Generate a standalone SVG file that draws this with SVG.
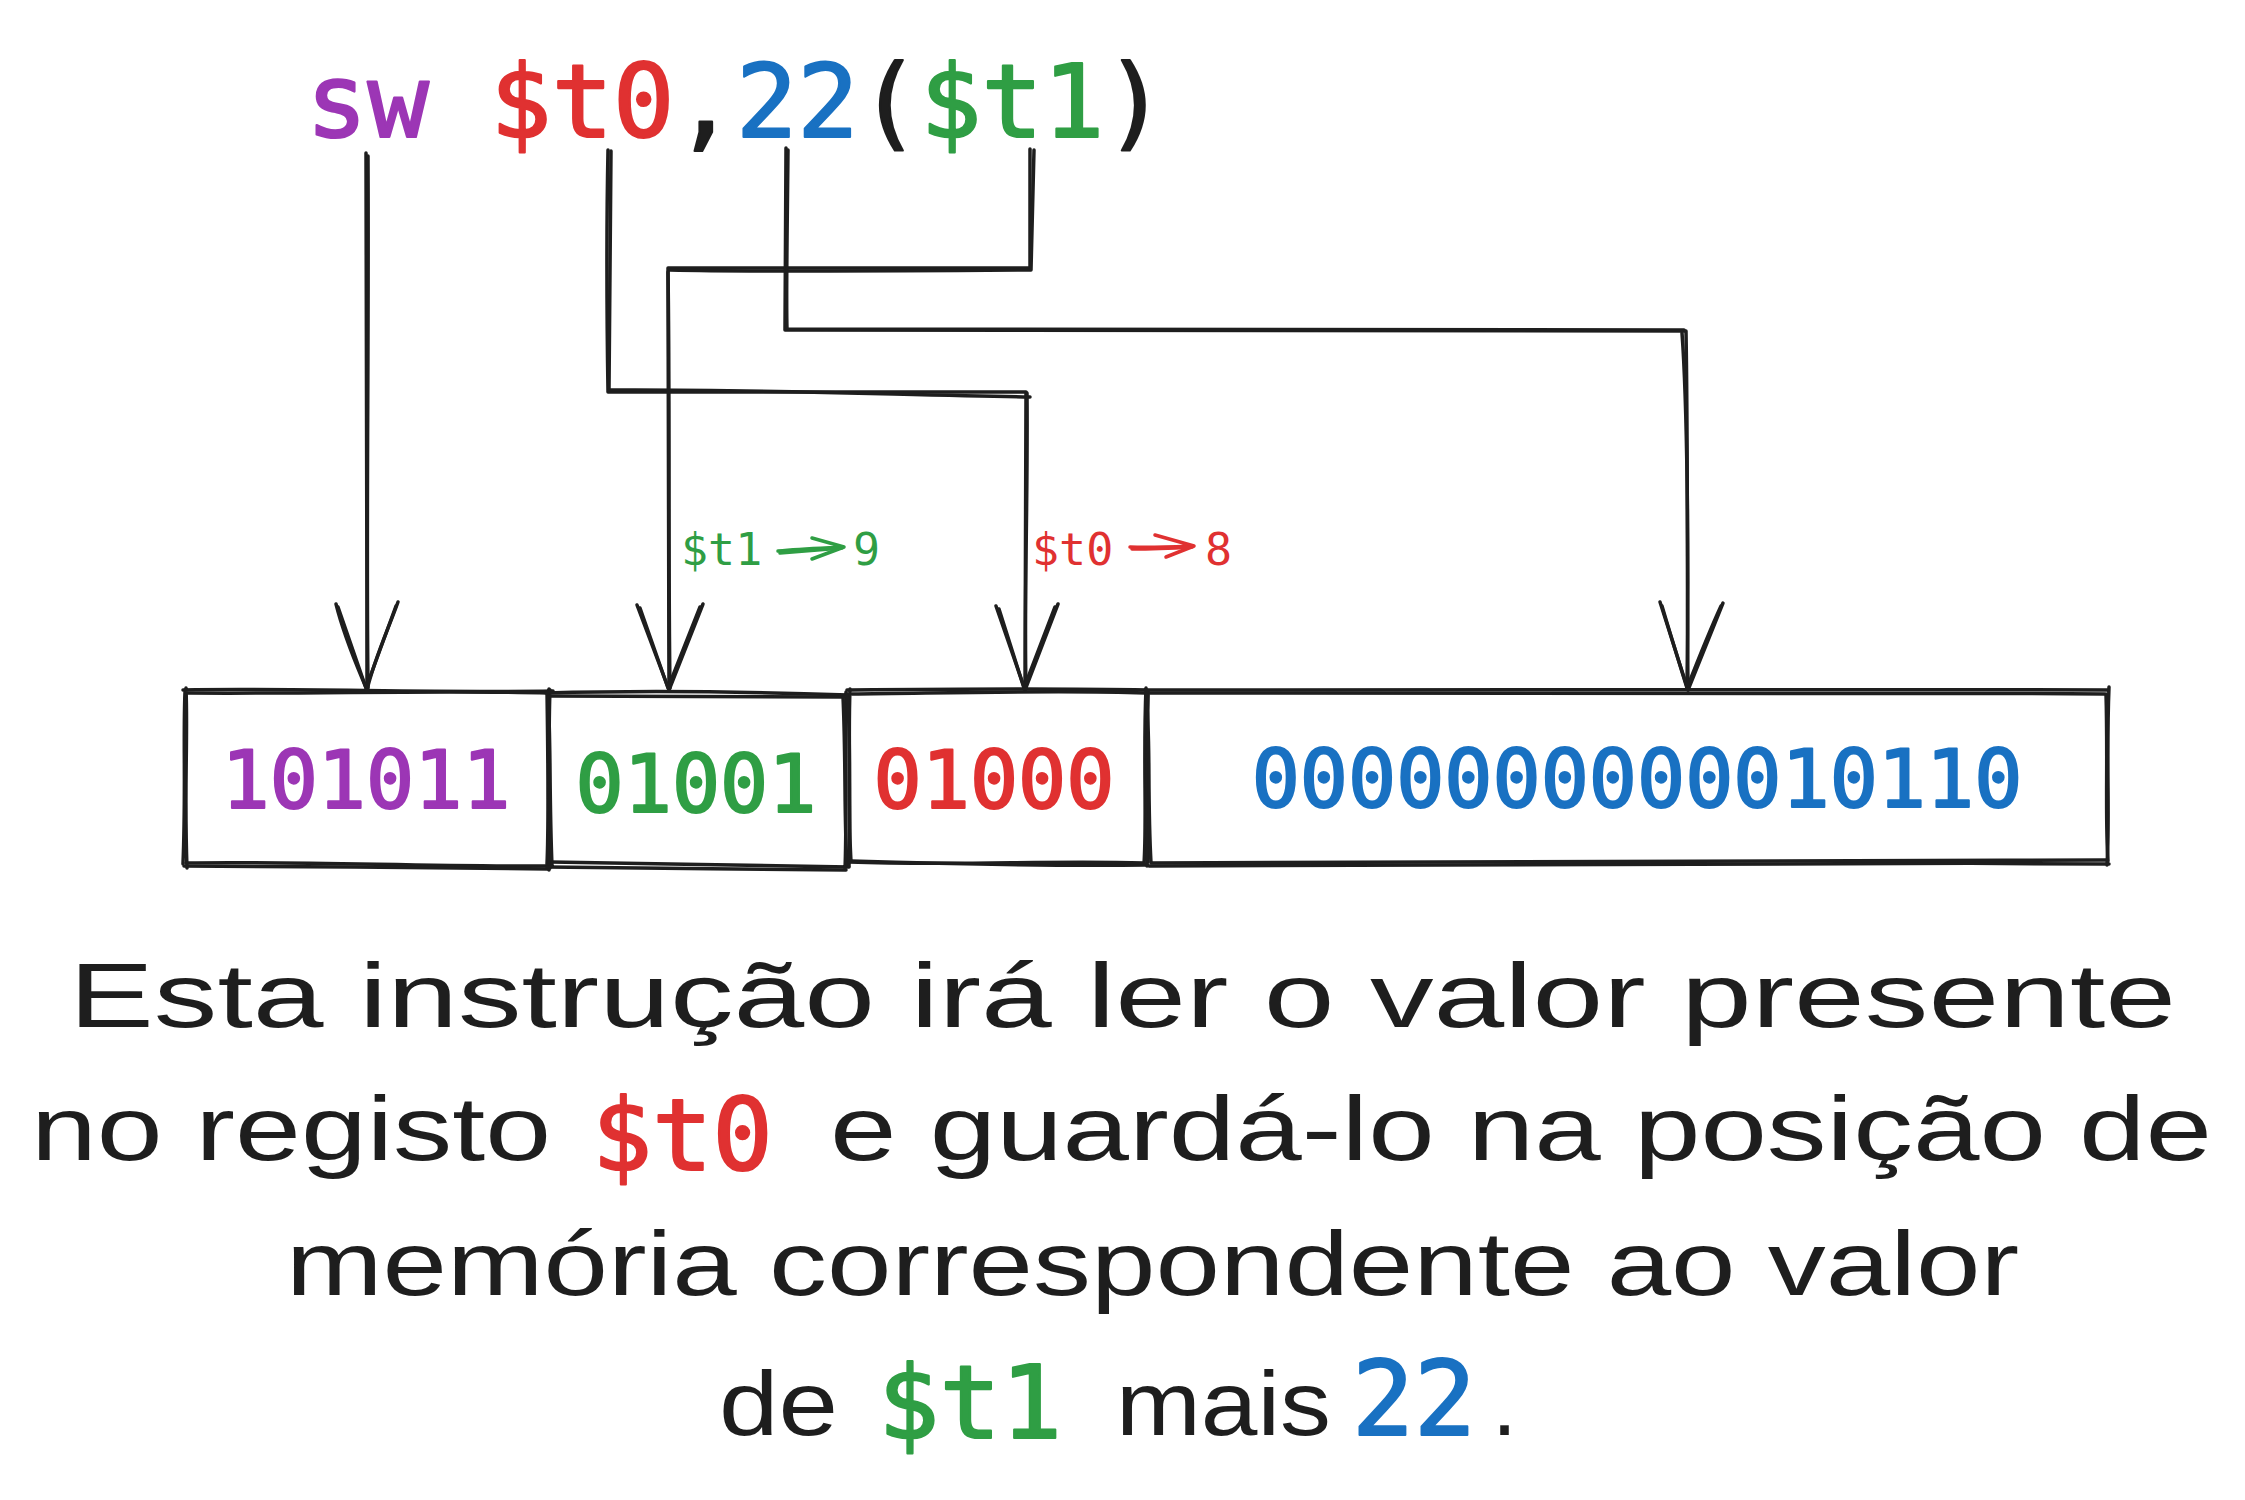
<svg xmlns="http://www.w3.org/2000/svg" width="2245" height="1500" viewBox="0 0 2245 1500">
<style>
.ln{fill:none;stroke:#1e1e1e;stroke-width:3.5;stroke-linecap:round;stroke-linejoin:round}
.lg{fill:none;stroke:#2f9e44;stroke-width:3.5;stroke-linecap:round;stroke-linejoin:round}
.lr{fill:none;stroke:#e03131;stroke-width:3.5;stroke-linecap:round;stroke-linejoin:round}
.mono{font-family:"DejaVu Sans Mono","Liberation Mono",monospace}
.m{stroke-width:2.2;stroke-linejoin:round}
.hand{font-family:"Liberation Sans","DejaVu Sans",sans-serif;font-size:90px;fill:#1e1e1e}
.pu{fill:#9c36b5;stroke:#9c36b5}.rd{fill:#e03131;stroke:#e03131}.bl{fill:#1971c2;stroke:#1971c2}.gr{fill:#2f9e44;stroke:#2f9e44}.bk{fill:#1e1e1e;stroke:#1e1e1e}
.ns{stroke:none}
</style>
<rect width="2245" height="1500" fill="#ffffff"/>

<g id="instruction">
<text class="mono m" x="306" y="137" font-size="102" xml:space="preserve"><tspan class="pu">sw</tspan><tspan class="bk"> </tspan><tspan class="rd">$t0</tspan><tspan class="bk">,</tspan><tspan class="bl">22</tspan><tspan class="bk">(</tspan><tspan class="gr">$t1</tspan><tspan class="bk">)</tspan></text>
</g>

<g id="connectors">
<path class="ln" d="M366,153 C366,300 367,500 367,690"/>
<path class="ln" d="M368,156 C369,350 366,520 368,688"/>
<path class="ln" d="M336,604 C345,640 358,668 367,690 C374,660 388,630 398,602"/>
<path class="ln" d="M338,607 L366,688 L396,606"/>
<path class="ln" d="M608,150 C606,250 607,330 608,392 L1026,392 L1025,690"/>
<path class="ln" d="M611,151 L609,390 C760,389 900,395 1030,397 M1027,393 C1028,500 1024,600 1026,688"/>
<path class="ln" d="M996,606 L1025,690 L1058,604"/>
<path class="ln" d="M999,609 L1024,688 L1055,607"/>
<path class="ln" d="M1030,149 L1030,268 L668,268 L669,690"/>
<path class="ln" d="M1034,150 L1031,270 C900,271 760,272 670,270 M668,272 C670,400 668,550 670,688"/>
<path class="ln" d="M637,605 L669,690 L703,604"/>
<path class="ln" d="M640,608 L668,688 L700,607"/>
<path class="ln" d="M786,148 L785,330 L1686,331 C1688,450 1687,600 1688,690"/>
<path class="ln" d="M788,150 C787,250 786,300 787,329 C1100,331 1400,330 1684,330 M1682,333 C1687,400 1689,550 1687,688"/>
<path class="ln" d="M1660,602 L1688,690 L1723,603"/>
<path class="ln" d="M1662,606 C1672,640 1680,665 1687,688 C1698,660 1710,630 1721,606"/>
</g>

<g id="label-t1">
<text class="mono gr ns" x="681" y="565" font-size="45">$t1</text>
<path class="lg" d="M778,551 C800,549 825,548 843,547 M812,538 L844,547 L812,559"/>
<path class="lg" d="M780,553 C805,551 828,549 842,548"/>
<text class="mono gr ns" x="853" y="565" font-size="45">9</text>
</g>

<g id="label-t0">
<text class="mono rd ns" x="1032" y="565" font-size="45">$t0</text>
<path class="lr" d="M1130,547 C1150,548 1170,547 1194,546 M1155,535 L1194,546 L1166,557"/>
<path class="lr" d="M1132,549 C1155,549 1175,548 1192,547"/>
<text class="mono rd ns" x="1205" y="565" font-size="45">8</text>
</g>

<g id="field-opcode">
<path class="ln" d="M183,690 C300,688 430,693 553,691 M549,689 C550,760 547,820 550,868 M552,866 C430,867 300,861 186,863 M187,868 C184,790 188,740 186,688"/>
<path class="ln" d="M188,693 C320,694 440,690 548,693 M547,692 C548,760 549,820 547,864 M548,869 C420,868 310,866 184,866 M183,864 C186,790 183,740 185,692"/>
<text class="mono m pu" x="366" y="808" font-size="80" text-anchor="middle">101011</text>
</g>

<g id="field-rs">
<path class="ln" d="M546,693 C650,690 760,692 848,695 M846,692 C845,760 847,820 845,869 M849,867 C750,866 650,863 551,862 M549,870 C550,800 548,740 550,690"/>
<path class="ln" d="M551,696 C660,697 760,697 844,697 M843,697 C846,760 844,820 847,865 M846,870 C750,869 640,868 547,867 M552,866 C549,790 551,740 548,697"/>
<text class="mono m gr" x="696" y="812" font-size="80" text-anchor="middle">01001</text>
</g>

<g id="field-rt">
<path class="ln" d="M847,690 C950,689 1050,688 1147,690 M1146,688 C1143,760 1147,820 1144,864 M1146,865 C1050,866 950,864 851,861 M849,866 C851,790 848,740 850,689"/>
<path class="ln" d="M852,694 C950,693 1060,690 1145,693 M1148,692 C1147,760 1145,820 1148,862 M1144,863 C1050,860 960,866 849,862 M851,862 C847,790 852,740 847,694"/>
<text class="mono m rd" x="994" y="808" font-size="80" text-anchor="middle">01000</text>
</g>

<g id="field-immediate">
<path class="ln" d="M1145,690 C1500,688 1800,689 2108,690 M2109,687 C2106,760 2110,820 2107,865 M2109,864 C1800,862 1500,864 1149,866 M1147,866 C1149,790 1146,740 1148,690"/>
<path class="ln" d="M1150,693 C1500,693 1800,692 2105,694 M2106,694 C2108,760 2105,820 2108,861 M2106,860 C1800,861 1500,861 1151,863 M1151,863 C1147,790 1151,740 1146,695"/>
<text class="mono m bl" x="1637" y="807" font-size="80" text-anchor="middle">0000000000010110</text>
</g>

<g id="description">
<text class="hand" x="69" y="1027" textLength="2107" lengthAdjust="spacingAndGlyphs">Esta instrução irá ler o valor presente</text>
<text class="hand" x="31" y="1160" textLength="520" lengthAdjust="spacingAndGlyphs">no registo</text>
<text class="mono m rd" x="592" y="1170" font-size="100">$t0</text>
<text class="hand" x="830" y="1160" textLength="1382" lengthAdjust="spacingAndGlyphs">e guardá-lo na posição de</text>
<text class="hand" x="286" y="1295" textLength="1733" lengthAdjust="spacingAndGlyphs">memória correspondente ao valor</text>
<text class="hand" x="719" y="1435" textLength="119" lengthAdjust="spacingAndGlyphs">de</text>
<text class="mono m gr" x="878" y="1438" font-size="102">$t1</text>
<text class="hand" x="1116" y="1435" textLength="215" lengthAdjust="spacingAndGlyphs">mais</text>
<text class="mono m bl" x="1352" y="1435" font-size="103">22</text>
<text class="hand" x="1492" y="1435">.</text>
</g>
</svg>
